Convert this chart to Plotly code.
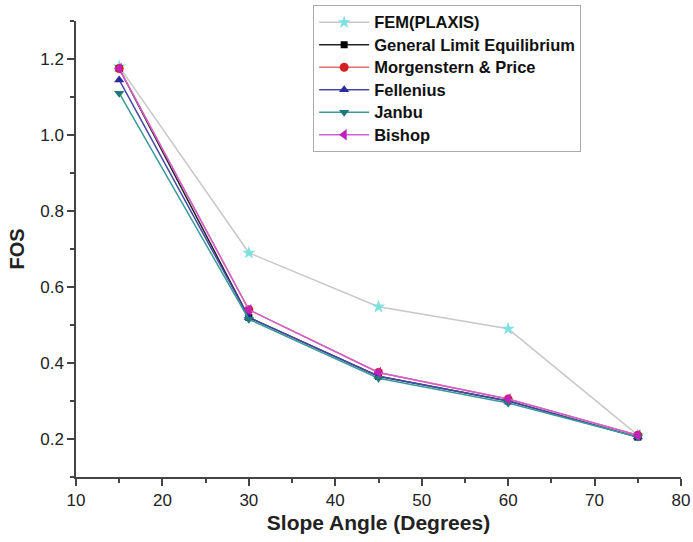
import plotly.graph_objects as go

slope_angle = [15, 30, 45, 60, 75]
fem_plaxis = [1.18, 0.69, 0.548, 0.49, 0.21]
general_le = [1.175, 0.52, 0.365, 0.30, 0.205]
morgenstern_price = [1.175, 0.54, 0.375, 0.305, 0.21]
fellenius = [1.145, 0.52, 0.365, 0.30, 0.205]
janbu = [1.11, 0.515, 0.36, 0.295, 0.205]
bishop = [1.175, 0.54, 0.375, 0.305, 0.21]

series = [
    ("FEM(PLAXIS)", fem_plaxis, "#c8c8c8", "#7fe0e0", "star", 10),
    ("General Limit Equilibrium", general_le, "#222222", "#000000", "square", 7),
    ("Morgenstern & Price", morgenstern_price, "#e07070", "#d42020", "circle", 9),
    ("Fellenius", fellenius, "#4848a8", "#2a2aa0", "triangle-up", 9),
    ("Janbu", janbu, "#3a9a9a", "#1f7a7a", "triangle-down", 9),
    ("Bishop", bishop, "#d060d0", "#c020c0", "triangle-left", 10),
]

font = "Liberation Sans, Arial, sans-serif"
fig = go.Figure()
for name, ys, lc, mc, sym, sz in series:
    fig.add_trace(go.Scatter(
        x=slope_angle, y=ys, mode="lines+markers",
        name="<b><span style='font-size:16.5px'>" + name + "</span></b>",
        line=dict(color=lc, width=1.5),
        marker=dict(color=mc, symbol=sym, size=sz, line=dict(width=0)),
    ))

fig.update_layout(
    width=693, height=542,
    margin=dict(l=76, r=12, t=21, b=65, autoexpand=False),
    plot_bgcolor="white", paper_bgcolor="white",
    font=dict(family=font, size=14, color="#222"),
    legend=dict(
        x=0.392, y=1.035, xanchor="left", yanchor="top",
        bordercolor="#aaaaaa", borderwidth=1, bgcolor="white",
        font=dict(family=font, size=15, color="#111"),
        tracegroupgap=0, itemwidth=50,
    ),
    xaxis=dict(
        range=[10, 80], tickvals=[10, 20, 30, 40, 50, 60, 70, 80],
        ticks="outside", ticklen=7, tickwidth=1.5, tickcolor="#444",
        showline=True, linecolor="#444", linewidth=1.5, showgrid=False, zeroline=False,
        minor=dict(ticks="outside", ticklen=4, tickwidth=1.5, tickcolor="#444", dtick=5, tick0=10),
        title=dict(text="<b>Slope Angle (Degrees)</b>", font=dict(size=21), standoff=6),
        tickfont=dict(size=17), automargin=False,
    ),
    yaxis=dict(
        range=[0.1, 1.3], tickvals=[0.2, 0.4, 0.6, 0.8, 1.0, 1.2],
        ticktext=["0.2", "0.4", "0.6", "0.8", "1.0", "1.2"],
        ticks="outside", ticklen=7, tickwidth=1.5, tickcolor="#444",
        showline=True, linecolor="#444", linewidth=1.5, showgrid=False, zeroline=False,
        minor=dict(ticks="outside", ticklen=4, tickwidth=1.5, tickcolor="#444", dtick=0.1, tick0=0.1),
        title=dict(text="<b>FOS</b>", font=dict(size=20), standoff=10),
        tickfont=dict(size=17), automargin=False,
    ),
)

fig.write_html("out.html")
